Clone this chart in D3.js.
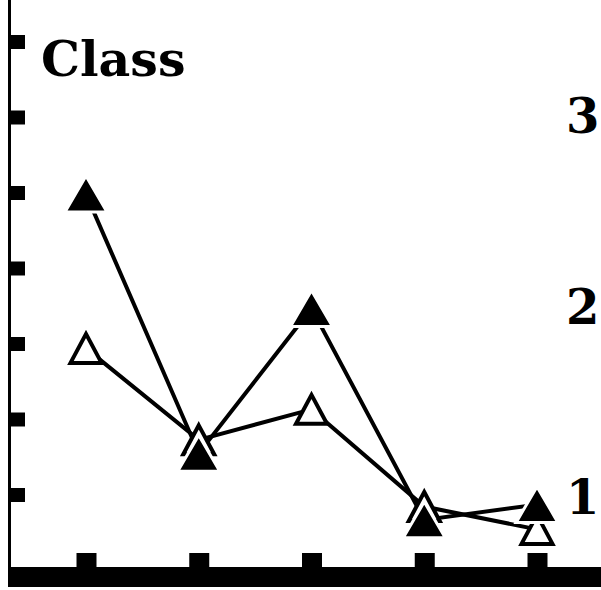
<!DOCTYPE html>
<html>
<head>
<meta charset="utf-8">
<script src="https://cdn.jsdelivr.net/npm/d3@7"></script>
<style>
  html, body { margin: 0; padding: 0; background: #fff; }
  svg { display: block; }
</style>
</head>
<body>
<svg id="chart" width="601" height="590"></svg>
<script>
// ---- data ----
const categories = [1, 2, 3, 4, 5];
const filledValues = [25.9, 12.3, 19.9, 8.8, 9.6];
const openValues = [17.8, 13.0, 14.6, 9.5, 8.3];
const rightTickValues = [10, 20, 30];
const rightTickLabels = ["10", "20", "30"];
const leftTickValues = [1, 2, 3, 4, 5, 6, 7];
const titleText = "Class";

// ---- setup ----
const svg = d3.select("#chart");
const W = 601, H = 590;
const serif = "'DejaVu Serif', serif";

const x = d3.scalePoint().domain(categories).range([86, 537]);
const yRight = d3.scaleLinear().domain([10, 30]).range([497, 116]);
const yLeft = d3.scaleLinear().domain([0, 7]).range([570, 41.5]);

// left axis line
svg.append("line")
  .attr("x1", 9.5).attr("x2", 9.5)
  .attr("y1", 0).attr("y2", 587)
  .attr("stroke", "#000").attr("stroke-width", 3);

// left axis ticks (inward blocks, no labels)
const leftAxis = svg.append("g")
  .attr("transform", "translate(9,0)")
  .call(d3.axisRight(yLeft).tickValues(leftTickValues).tickSize(16).tickSizeOuter(0).tickFormat(""));
leftAxis.select(".domain").remove();
leftAxis.selectAll(".tick line").attr("stroke", "#000").attr("stroke-width", 14);

// bottom thick bar
svg.append("rect")
  .attr("x", 8).attr("y", 567)
  .attr("width", W - 8).attr("height", 20)
  .attr("fill", "#000");

// bottom axis ticks (blocks above bar)
const bottomAxis = svg.append("g")
  .attr("transform", "translate(0,567)")
  .call(d3.axisTop(x).tickSize(14).tickSizeOuter(0).tickFormat(""));
bottomAxis.select(".domain").remove();
bottomAxis.selectAll(".tick line").attr("stroke", "#000").attr("stroke-width", 20);

// right-side labels (clipped by page edge, as in the reference)
svg.append("g").selectAll("text")
  .data(rightTickValues)
  .join("text")
  .attr("x", 566)
  .attr("y", d => yRight(d) + 17)
  .attr("font-family", serif)
  .attr("font-weight", "bold")
  .attr("font-size", 48)
  .attr("fill", "#000")
  .text((d, i) => rightTickLabels[i]);

// title
svg.append("text")
  .attr("x", 41).attr("y", 76)
  .attr("font-family", serif)
  .attr("font-weight", "bold")
  .attr("font-size", 49)
  .attr("fill", "#000")
  .text(titleText);

// lines
const line = d3.line().x((d, i) => x(categories[i])).y(d => yRight(d));

svg.append("path")
  .attr("d", line(openValues))
  .attr("fill", "none").attr("stroke", "#000").attr("stroke-width", 4);
svg.append("path")
  .attr("d", line(filledValues))
  .attr("fill", "none").attr("stroke", "#000").attr("stroke-width", 4);

function tri(w, h) {
  return `M0,${-h / 2}L${w / 2},${h / 2}L${-w / 2},${h / 2}Z`;
}

// open triangles
svg.append("g").selectAll("path")
  .data(openValues)
  .join("path")
  .attr("transform", (d, i) => `translate(${x(categories[i])},${yRight(d)})`)
  .attr("d", tri(31, 29))
  .attr("fill", "#fff")
  .attr("stroke", "#000")
  .attr("stroke-width", 4)
  .attr("stroke-linejoin", "miter");

// filled triangles
svg.append("g").selectAll("path")
  .data(filledValues)
  .join("path")
  .attr("transform", (d, i) => `translate(${x(categories[i])},${yRight(d)})`)
  .attr("d", tri(42, 36))
  .attr("fill", "#000")
  .attr("stroke", "#fff")
  .attr("stroke-width", 3)
  .attr("stroke-linejoin", "miter");
</script>
</body>
</html>
